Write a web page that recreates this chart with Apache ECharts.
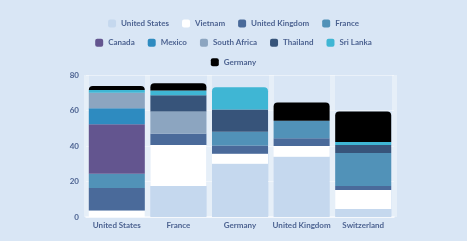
<!DOCTYPE html>
<html>
<head>
<meta charset="utf-8">
<script src="https://cdn.jsdelivr.net/npm/echarts@6/dist/echarts.min.js"></script>
<style>
html,body{margin:0;padding:0;background:#d9e6f5;}
#c{width:467px;height:241px;}
</style>
</head>
<body>
<div id="c"></div>
<script>
const categories = ['United States', 'France', 'Germany', 'United Kingdom', 'Switzerland'];
const seriesNames = ['United States', 'Vietnam', 'United Kingdom', 'France', 'Canada', 'Mexico', 'South Africa', 'Thailand', 'Sri Lanka', 'Germany'];
const unitedStates = [0, 17.5, 30, 34, 4.5];
const vietnam = [3.7, 23, 5.7, 6, 10.7];
const unitedKingdom = [12.7, 6.4, 4.6, 4.3, 2.2];
const france = [7.9, 0, 7.7, 9.9, 18.7];
const canada = [28, 0, 0, 0, 0];
const mexico = [9, 0, 0, 0, 0];
const southAfrica = [8.7, 12.6, 0, 0, 0];
const thailand = [0, 9.1, 12.6, 0, 4.5];
const sriLanka = [1.5, 2.6, 12.5, 0, 1.7];
const germany = [2.3, 4.1, 0, 10.3, 17.1];
const yTicks = [0, 20, 40, 60, 80];

const values = [unitedStates, vietnam, unitedKingdom, france, canada, mexico, southAfrica, thailand, sriLanka, germany];
const colors = ['#c5d8ee', '#ffffff', '#4a6a9a', '#5192b8', '#63558f', '#2e8bc0', '#8ca5c0', '#37547a', '#3fb6d4', '#000000'];

const topIdx = categories.map((c, ci) => {
  let t = -1;
  values.forEach((arr, si) => { if (arr[ci] > 0) t = si; });
  return t;
});

const series = seriesNames.map((name, si) => ({
  name: name,
  type: 'bar',
  stack: 'total',
  barWidth: 56,
  itemStyle: { color: colors[si] },
  data: values[si].map((v, ci) => ({
    value: v,
    itemStyle: topIdx[ci] === si ? { borderRadius: [4, 4, 0, 0] } : {}
  }))
}));

const textColor = '#4d6391';
const fontFamily = 'Lato';
const legendText = { color: textColor, fontSize: 8, fontWeight: 'bold', fontFamily: fontFamily };
const rows = [seriesNames.slice(0, 4), seriesNames.slice(4, 9), seriesNames.slice(9)];
const legendTops = [19.5, 38.8, 58.2];
const legends = rows.map((r, i) => ({
  data: r,
  top: legendTops[i],
  left: 'center',
  padding: 0,
  itemWidth: 8,
  itemHeight: 8,
  itemGap: 13,
  icon: 'roundRect',
  textStyle: legendText,
  selectedMode: false
}));

const chart = echarts.init(document.getElementById('c'));
chart.setOption({
  backgroundColor: '#d9e6f5',
  animation: false,
  color: colors,
  legend: legends,
  grid: { left: 86, right: 73, top: 75, bottom: 24 },
  xAxis: {
    type: 'category',
    data: categories,
    axisLine: { show: true, lineStyle: { color: 'rgba(255,255,255,0.5)', width: 2 } },
    axisTick: { show: false },
    axisLabel: { interval: 0, color: textColor, fontSize: 8, fontWeight: 'bold', fontFamily: fontFamily, margin: 4 },
    splitLine: { show: true, lineStyle: { color: 'rgba(255,255,255,0.35)', width: 5 } }
  },
  yAxis: {
    type: 'value',
    min: yTicks[0],
    max: yTicks[yTicks.length - 1],
    interval: yTicks[1] - yTicks[0],
    axisLine: { show: false },
    axisTick: { show: false },
    axisLabel: { color: textColor, fontSize: 8, fontWeight: 'bold', fontFamily: fontFamily, margin: 7 },
    splitLine: { lineStyle: { color: 'rgba(255,255,255,0.45)', width: 1 } }
  },
  series: series
});
</script>
</body>
</html>
